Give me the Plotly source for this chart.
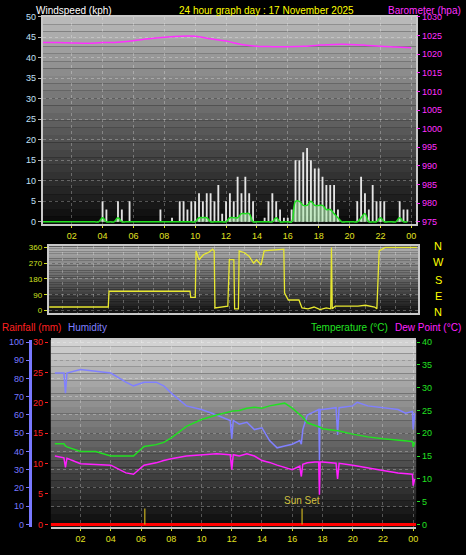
import plotly.graph_objects as go

W, H = 466, 555

# ---------------- DATA ----------------
wind_hours = [i / 4 for i in range(96)]
wind_gust = [0]*16 + [
    5, 3, 0, 0,   5, 3, 0, 5,   0, 0, 0, 0,   0, 0, 0, 3,
    0, 0, 1, 0,   5, 5, 3, 5,   5, 7, 5, 7,   7, 5, 9, 2,
    5, 7, 5, 11,  7, 11, 7, 5,  0, 0, 1, 5,   7, 5, 3, 1,
    1, 3, 15, 15, 17, 18, 15, 13, 13, 11, 9, 9, 9, 3, 0, 0,
    0, 0, 5, 11,  7, 3, 9, 5,   5, 5, 0, 0,   0, 5, 3, 3]
wind_avg = [0]*16 + [
    1, 0, 0, 0,   1, 0, 0, 0,   0, 0, 0, 0,   0, 0, 0, 0,
    0, 0, 0, 0,   0, 0, 0, 0,   0, 1, 1, 1,   0, 0, 0, 0,
    0, 1, 1, 1,   2, 2, 2, 0,   0, 0, 0, 0,   0, 1, 0, 0,
    0, 0, 5, 5,   4, 4, 5, 4,   4, 4, 3, 3,   2, 1, 0, 0,
    0, 0, 0, 1,   2, 0, 0, 0,   1, 0, 0, 0,   0, 1, 0, 0]

baro_hours = list(range(25))
baro = [1023.1, 1023.1, 1023.0, 1022.9, 1023.1, 1023.2, 1023.6, 1024.1, 1024.5,
        1024.8, 1024.8, 1024.1, 1023.5, 1022.6, 1022.1, 1022.0, 1022.0, 1022.1,
        1022.4, 1022.6, 1022.6, 1022.4, 1022.1, 1021.9, 1021.7]

dir_hours = [0.1, 4.0, 4.05, 9.4, 9.45, 9.75, 9.8, 10.0, 10.3, 10.6, 10.9, 11.0,
             11.05, 11.9, 12.0, 12.3, 12.35, 12.6, 12.65, 13.0, 13.3, 13.6, 13.8,
             14.1, 14.3, 15.6, 15.65, 15.9, 16.6, 16.8, 17.2, 17.6, 18.0, 18.4,
             18.7, 18.75, 18.8, 19.0, 19.5, 20.5, 21.0, 21.6, 21.75, 21.9, 22.3, 24.4]
dir_vals = [20, 20, 110, 110, 75, 75, 340, 290, 320, 330, 350, 340,
            15, 25, 290, 290, 10, 10, 340, 330, 310, 270, 290,
            260, 340, 350, 100, 60, 60, 15, 10, 20, 5, 15,
            10, 360, 10, 25, 25, 25, 30, 20, 10, 340, 360, 360]

met_hours = [0.3, 0.9, 1.0, 1.1, 2.0, 3.0, 4.0, 5.0, 5.5, 6.2, 7.0, 7.5, 8.0, 9.0,
             10.0, 11.0, 11.9, 12.0, 12.1, 12.5, 13.0, 13.5, 14.0, 14.5, 15.0,
             15.5, 16.0, 16.5, 16.6, 16.7, 17.0, 17.5, 17.75, 17.8, 17.85, 18.0,
             18.9, 19.0, 19.1, 20.0, 20.3, 21.0, 22.0, 23.0, 23.5, 23.95, 24.0, 24.1]
humidity = [83, 83, 72, 83, 85, 84, 83, 78, 76, 78, 78, 76, 72, 65,
            63, 60, 57, 47, 57, 55, 56, 52, 53, 46, 42,
            43, 44, 46, 44, 52, 60, 62, 63, 35, 63, 63,
            64, 49, 64, 65, 67, 65, 64, 63, 61, 62, 52, 61]
temperature = [17.7, 17.7, 17.2, 17.0, 16.0, 16.0, 15.0, 15.0, 15.0, 17.1, 17.5, 18.0, 19.0, 21.5,
               23.0, 24.0, 24.8, 24.8, 24.9, 25.0, 25.5, 25.7, 25.5, 26.0, 26.3,
               26.6, 25.5, 24.0, 23.8, 23.5, 22.3, 21.8, 21.5, 21.4, 21.3, 21.0,
               20.6, 20.5, 20.5, 19.8, 19.6, 19.2, 18.8, 18.5, 18.4, 18.2, 17.0, 18.0]
dewpoint = [15.0, 14.6, 12.5, 14.5, 13.3, 13.2, 13.0, 11.3, 11.0, 13.0, 13.5, 14.0, 14.4, 15.0,
            15.3, 15.5, 15.3, 12.0, 15.3, 15.0, 15.5, 15.0, 14.0, 13.6, 13.0,
            12.5, 12.0, 12.8, 10.5, 13.2, 13.5, 13.7, 13.7, 6.5, 13.7, 13.7,
            13.4, 10.0, 13.4, 13.0, 12.8, 12.3, 11.8, 11.3, 11.1, 11.0, 8.5, 10.0]
rain_hours = [0.0, 24.2]
rainfall = [0, 0]

sun_hours = [6.25, 16.65]
sun_labels = ["", "Sun Set"]

hour_ticks = [2, 4, 6, 8, 10, 12, 14, 16, 18, 20, 22, 24]
hour_labels = ["02", "04", "06", "08", "10", "12", "14", "16", "18", "20", "22", "00"]

# ---------------- FIGURE ----------------
def px_x(p): return p / W
def px_y(p): return 1 - p / H

fig = go.Figure()
FONT = "Liberation Sans"

fig.add_trace(go.Bar(x=wind_hours, y=wind_gust, width=0.12, marker=dict(color="rgba(245,245,245,0.92)", line_width=0),
                     xaxis="x", yaxis="y"))
fig.add_trace(go.Scatter(x=wind_hours, y=wind_avg, mode="lines", line=dict(color="#22e022", width=1.5, shape="spline"),
                         fill="tozeroy", fillcolor="rgba(180,240,180,0.6)", xaxis="x", yaxis="y"))
fig.add_trace(go.Scatter(x=baro_hours, y=baro, mode="lines", line=dict(color="#ff30ff", width=1.5, shape="spline"),
                         xaxis="x", yaxis="y2"))

fig.add_trace(go.Scatter(x=dir_hours, y=dir_vals, mode="lines", line=dict(color="#e8e830", width=1.3),
                         xaxis="x2", yaxis="y3"))

fig.add_trace(go.Scatter(x=met_hours, y=humidity, mode="lines", line=dict(color="#8080ff", width=1.5),
                         xaxis="x3", yaxis="y4"))
fig.add_trace(go.Scatter(x=met_hours, y=temperature, mode="lines", line=dict(color="#22e022", width=1.5),
                         xaxis="x3", yaxis="y7"))
fig.add_trace(go.Scatter(x=met_hours, y=dewpoint, mode="lines", line=dict(color="#ff20ff", width=1.5),
                         xaxis="x3", yaxis="y7"))
fig.add_trace(go.Scatter(x=rain_hours, y=rainfall, mode="lines", line=dict(color="#ff0000", width=3),
                         xaxis="x3", yaxis="y5"))
for h, lab in zip(sun_hours, sun_labels):
    fig.add_trace(go.Scatter(x=[h, h], y=[0, 2.6], mode="lines", line=dict(color="#c8b020", width=1.2),
                             xaxis="x3", yaxis="y5"))
    if lab:
        fig.add_annotation(x=h, y=2.7, xref="x3", yref="y5", text=lab, showarrow=False, yanchor="bottom",
                           font=dict(color="#d0c040", size=10, family=FONT))

# gradient backgrounds
def gradient(x0, x1, y0, y1, top, bottom, n=28):
    for i in range(n):
        t = i / (n - 1)
        g = int(top + (bottom - top) * t)
        fig.add_shape(type="rect", xref="paper", yref="paper", layer="below", line_width=0,
                      x0=px_x(x0), x1=px_x(x1),
                      y0=px_y(y0 + (y1 - y0) * i / n), y1=px_y(y0 + (y1 - y0) * (i + 1) / n),
                      fillcolor=f"rgb({g},{g},{g})")

gradient(43, 418, 12, 222, 185, 12)
gradient(49, 420, 245, 313, 175, 20)
gradient(51, 418, 340, 530, 210, 12)

grid = dict(showgrid=True, gridcolor="rgba(255,255,255,0.28)", griddash="dot", gridwidth=1, zeroline=False)
tickf = dict(size=9, family=FONT)
frame = dict(showline=True, linecolor="#c8c8c8", linewidth=2, mirror=True)

fig.update_layout(
    width=W, height=H, margin=dict(l=0, r=0, t=0, b=0),
    paper_bgcolor="black", plot_bgcolor="rgba(0,0,0,0)", showlegend=False, barmode="overlay",
    xaxis=dict(domain=[px_x(43), px_x(418)], range=[0.13, 24.32], anchor="y", tickvals=hour_ticks,
               ticktext=hour_labels, tickfont=dict(color="#e0e020", **tickf), dtick=1, ticks="outside",
               ticklen=2, tickcolor="#e0e020", **frame, **grid),
    yaxis=dict(domain=[px_y(222), px_y(12)], range=[-0.48, 50], tickvals=list(range(0, 51, 5)),
               tickfont=dict(color="#c0e0f8", **tickf), ticks="outside", ticklen=3, tickcolor="#b0b0b0", **frame, **grid),
    yaxis2=dict(overlaying="y", side="right", range=[974.47, 1030], tickvals=list(range(975, 1031, 5)),
                tickfont=dict(color="#ff30ff", **tickf), ticks="outside", ticklen=3, tickcolor="#ff30ff",
                showgrid=False, zeroline=False),
    xaxis2=dict(domain=[px_x(49), px_x(420)], range=[0.07, 24.48], anchor="y3", showticklabels=False,
                dtick=1, **frame, **grid),
    yaxis3=dict(domain=[px_y(313), px_y(245)], range=[-16.9, 365.6], anchor="x2", tickvals=[0, 90, 180, 270, 360],
                tickfont=dict(color="#d0e020", size=8, family=FONT), ticks="outside", ticklen=3,
                tickcolor="#d0e020", **frame, **grid),
    xaxis3=dict(domain=[px_x(51), px_x(418)], range=[0.03, 24.2], anchor="y4", tickvals=hour_ticks,
                ticktext=hour_labels, tickfont=dict(color="#e0e020", **tickf), ticks="outside", ticklen=2,
                tickcolor="#e0e020", dtick=1, **frame, **grid),
    yaxis4=dict(domain=[px_y(530), px_y(340)], range=[-1.62, 101.08], anchor="free", position=px_x(30),
                tickvals=list(range(0, 101, 10)), tickfont=dict(color="#7878ff", **tickf), ticks="outside",
                ticklen=3, tickcolor="#7878ff", showline=True, linecolor="#7878ff", linewidth=3,
                showgrid=True, gridcolor="rgba(255,255,255,0.28)", griddash="dot", zeroline=False),
    yaxis5=dict(overlaying="y4", anchor="free", position=px_x(48), range=[-0.49, 30.32],
                tickvals=list(range(0, 31, 5)), tickfont=dict(color="#ff2020", **tickf), ticks="outside",
                ticklen=3, tickcolor="#ff2020", showgrid=False, zeroline=False, showline=False),
    yaxis7=dict(overlaying="y4", anchor="x3", side="right", range=[-0.65, 40.43],
                tickvals=list(range(0, 41, 5)), tickfont=dict(color="#22e022", **tickf), ticks="outside",
                ticklen=3, tickcolor="#22e022", showgrid=False, zeroline=False),
)

def label(x, y, text, color, anchor="left", size=10):
    fig.add_annotation(x=px_x(x), y=px_y(y), xref="paper", yref="paper", text=text, showarrow=False,
                       xanchor=anchor, yanchor="middle", font=dict(color=color, size=size, family=FONT))

label(34, 6, "Windspeed (kph)", "white")
label(268, 6, "24 hour graph day : 17 November 2025", "#ffff00", "center")
label(465, 6, "Barometer (hpa)", "#ff30ff", "right")
for yy, t in zip([245, 261, 279, 295, 311], ["N", "W", "S", "E", "N"]):
    label(440, yy, t, "#ffff00", "center", 11)
label(0, 327, "Rainfall (mm)", "#ff2020")
label(66, 327, "Humidity", "#8080ff")
label(392, 327, "Temperature (°C)", "#22e022", "right")
label(465, 327, "Dew Point (°C)", "#ff20ff", "right")

fig.write_html("out.html", config={"displayModeBar": False},
               post_script="document.body.style.margin='0';document.body.style.overflow='hidden';")
